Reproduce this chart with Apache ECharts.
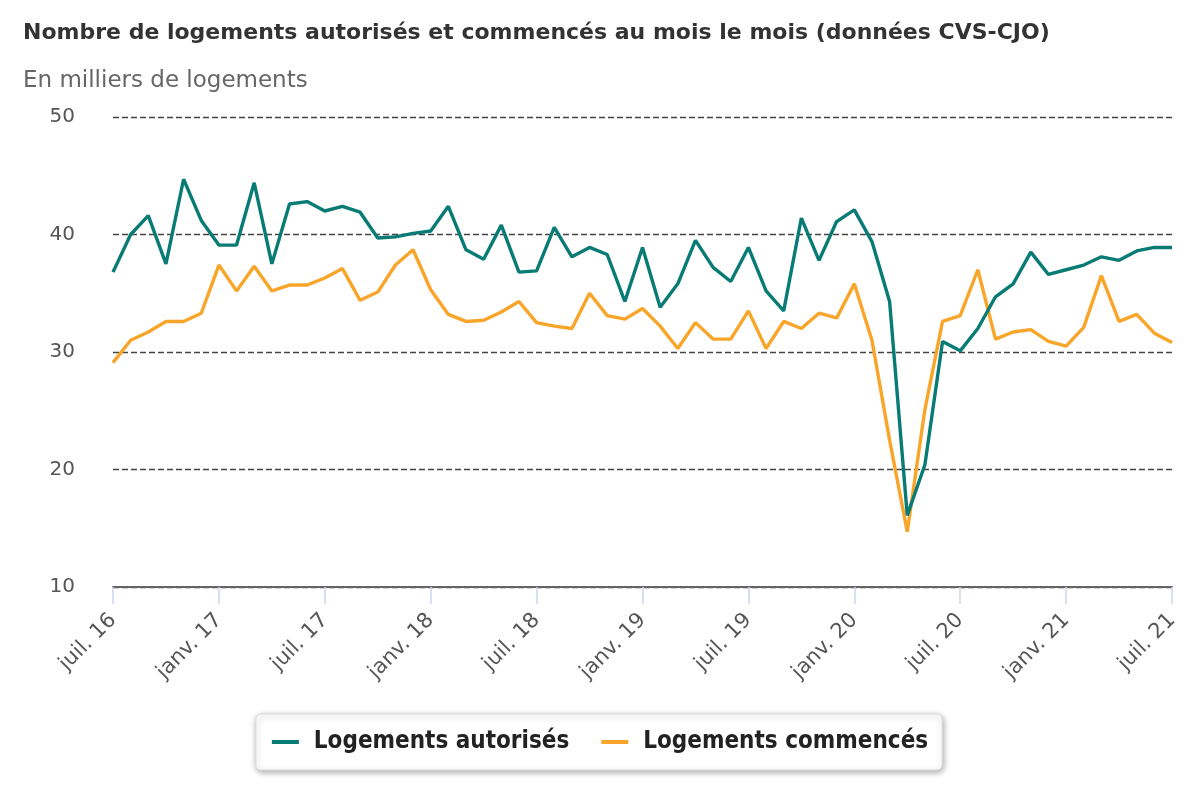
<!DOCTYPE html>
<html><head><meta charset="utf-8">
<script src="https://cdn.jsdelivr.net/npm/echarts@6/dist/echarts.min.js"></script>
<style>html,body{margin:0;padding:0;background:#fff}#c{width:1200px;height:800px}</style>
</head><body><div id="c"></div>
<script>
const monthNames = ['janv.','févr.','mars','avr.','mai','juin','juil.','août','sept.','oct.','nov.','déc.'];
const categories = [];
for (let k = 0; k < 61; k++) { const m = (6 + k) % 12; const y = 16 + Math.floor((6 + k) / 12); categories.push(monthNames[m] + ' ' + y); }
const autorises = [36.8,40.0,41.6,37.5,44.7,41.2,39.1,39.1,44.4,37.5,42.6,42.8,42.0,42.4,41.9,39.7,39.8,40.1,40.3,42.4,38.7,37.9,40.8,36.8,36.9,40.6,38.1,38.9,38.3,34.3,38.9,33.8,35.8,39.5,37.2,36.0,38.9,35.2,33.5,41.4,37.8,41.1,42.1,39.4,34.3,16.1,20.4,30.9,30.1,32.0,34.7,35.8,38.5,36.6,37.0,37.4,38.1,37.8,38.6,38.9,38.9];
const commences = [29.1,31.0,31.7,32.6,32.6,33.3,37.4,35.2,37.3,35.2,35.7,35.7,36.3,37.1,34.4,35.1,37.4,38.7,35.3,33.2,32.6,32.7,33.4,34.3,32.5,32.2,32.0,35.0,33.1,32.8,33.7,32.2,30.3,32.5,31.1,31.1,33.5,30.3,32.6,32.0,33.3,32.9,35.8,31.0,22.5,14.7,25.1,32.6,33.1,37.0,31.1,31.7,31.9,30.9,30.5,32.1,36.5,32.6,33.2,31.6,30.8];
const yTicks = [10,20,30,40,50];

const chart = echarts.init(document.getElementById('c'));
chart.setOption({
  animation: false,
  title: [
    {text: 'Nombre de logements autorisés et commencés au mois le mois (données CVS-CJO)', left: 18, top: 17,
     textStyle: {fontFamily: 'DejaVu Sans', fontWeight: 'bold', fontSize: 22, color: '#333'}},
    {text: 'En milliers de logements', left: 18, top: 65,
     textStyle: {fontFamily: 'DejaVu Sans', fontWeight: 'normal', fontSize: 23, color: '#666'}}
  ],
  grid: {left: 113, right: 28, top: 117, bottom: 213, containLabel: false},
  legend: {
    bottom: 30, left: 'center',
    data: ['Logements autorisés', 'Logements commencés'],
    icon: 'rect', itemWidth: 27, itemHeight: 4, itemGap: 32,
    backgroundColor: '#fff', borderColor: '#ddd', borderWidth: 1, borderRadius: 5,
    shadowBlur: 6, shadowColor: 'rgba(0,0,0,0.35)', shadowOffsetX: 1, shadowOffsetY: 2,
    padding: [16, 14, 16, 16],
    textStyle: {fontFamily: 'DejaVu Sans Condensed', fontWeight: 'bold', fontSize: 24, color: '#222', padding: [0, 0, 0, 10]}
  },
  xAxis: {
    type: 'category', data: categories, boundaryGap: false,
    axisLine: {lineStyle: {color: '#666', width: 2}},
    axisTick: {interval: 5, length: 17, lineStyle: {color: '#ccd6eb', width: 1.5}},
    axisLabel: {interval: 5, rotate: 45, fontFamily: 'DejaVu Sans', fontSize: 21, color: '#555', margin: 30},
    splitLine: {show: false}
  },
  yAxis: {
    type: 'value', min: yTicks[0], max: yTicks[yTicks.length - 1], interval: 10,
    axisLine: {show: false}, axisTick: {show: false},
    axisLabel: {fontFamily: 'DejaVu Sans', fontSize: 20, color: '#555', margin: 38},
    splitLine: {lineStyle: {color: '#444', type: [6, 3], width: 1.3}}
  },
  series: [
    {name: 'Logements autorisés', type: 'line', data: autorises, symbol: 'none',
     lineStyle: {color: '#087b75', width: 3.4}, itemStyle: {color: '#087b75'}, z: 3},
    {name: 'Logements commencés', type: 'line', data: commences, symbol: 'none',
     lineStyle: {color: '#f8a52a', width: 3.4}, itemStyle: {color: '#f8a52a'}, z: 2}
  ]
});
</script></body></html>
